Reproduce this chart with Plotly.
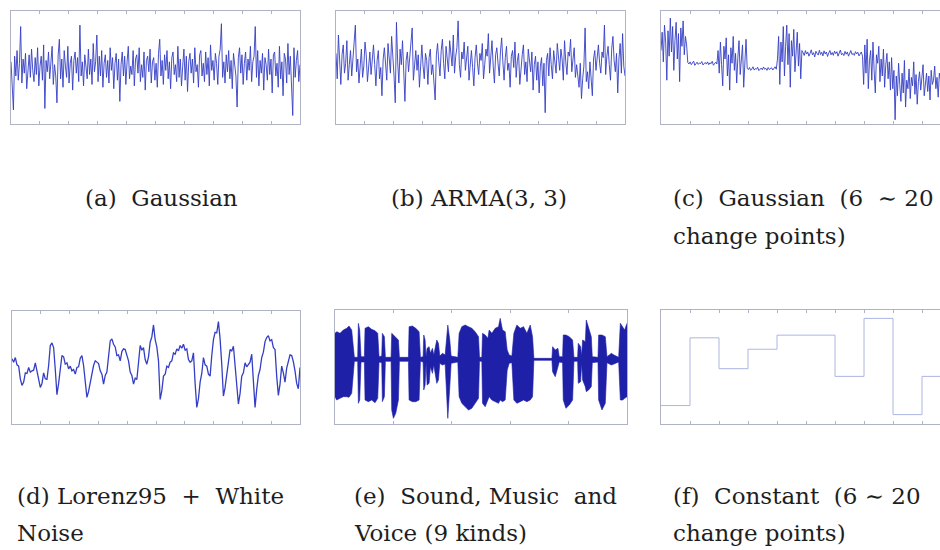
import plotly.graph_objects as go

# ---------------- data ----------------
# (a) Gaussian white noise
gaussian = [
    0.4, -1.2, -3.0, 0.8, -0.6, 1.2, -0.9, 0.3, 2.9, -1.1, 0.6, -0.4, 1.0, -1.5, 0.2, 0.9, -0.7, 1.3, -0.2, -1.0,
    0.7, -0.5, 1.4, -1.3, 0.1, 0.8, -0.9, 1.6, -2.9, 0.5, -0.3, 1.1, -0.8, 0.4, 1.5, -1.2, 0.2, -0.6, -2.5, 0.9,
    2.0, -0.8, 0.6, -1.4, 1.2, 0.1, -0.7, 1.5, -1.1, 0.3, 0.8, -1.6, 0.5, 1.1, -0.4, 0.7, -1.0, 3.0, -0.6, 0.4,
    -1.3, 0.9, 0.2, -0.8, 1.3, -0.5, 0.6, -1.2, 1.7, -0.3, 0.4, 2.3, -1.0, 0.8, -0.6, 1.2, -1.4, 0.3, 0.9, -0.7,
    0.5, -1.1, 1.4, -0.2, 0.7, -1.5, 0.3, 1.0, -0.9, 0.6, -2.4, 0.2, 1.1, -0.6, 0.8, -1.2, 0.4, 1.5, -0.8, 0.1,
    -0.5, 1.2, -1.3, 0.6, 0.9, -0.4, 1.4, -1.0, 0.2, -0.7, 1.1, -1.6, 0.5, 0.8, -0.3, 1.3, -1.1, 0.4, 0.7, -0.9,
    0.3, -1.4, 1.0, 2.0, -0.6, 0.5, -1.2, 0.9, -0.2, 1.2, -0.8, 0.4, -1.5, 0.7, 1.1, -0.5, 0.2, -1.0, 1.5, -0.7,
    0.6, -1.3, 0.1, 1.3, -0.9, 0.8, -1.7, 0.4, 1.0, -0.4, 0.6, -1.1, 1.4, -0.3, 0.2, -1.4, 0.9, 1.2, -0.6, 0.3,
    -1.0, 1.1, -0.5, 0.7, -1.3, 1.6, -0.2, 0.5, -0.9, 1.0, 0.3, -1.2, 0.8, 1.3, 3.1, -0.7, 0.4, -1.1, 0.9, -0.3,
    1.2, -0.8, 0.5, -1.5, 1.0, 0.2, -0.6, -2.8, 0.7, 1.4, -0.4, 0.9, -1.2, 0.3, 1.1, -0.9, 0.6, -0.2, 1.5, -1.0,
    0.4, 0.8, 2.9, -0.7, 1.2, -1.3, 0.5, -0.4, 1.0, -1.6, 0.7, 0.2, -0.9, 1.3, -0.5, 0.6, -1.8, 0.9, 1.1, -0.6,
    0.3, -1.4, 1.5, -0.8, 0.4, -2.0, 1.0, 0.6, -1.1, 1.7, -0.5, 0.8, -1.3, -3.4, 1.4, -0.7, 0.5, 1.2, -1.0, 0.2,
]

# (b) ARMA(3, 3)
arma = [
    1.0, -0.8, 2.3, 0.5, -1.2, 0.9, 1.6, -0.4, 0.3, 1.9, -0.9, 0.2, 1.2, -0.6, 0.8, 1.5, 3.0, -0.3, 0.6, -1.1,
    0.4, 1.3, -0.7, 0.1, 1.8, 0.9, -1.0, 0.3, 1.1, -0.5, 0.7, 1.6, 0.2, -1.3, 0.5, 1.2, -0.8, 0.0, -2.0, 0.6,
    1.4, 0.3, -0.9, 1.7, 0.8, -0.4, 2.2, 1.0, -0.6, -2.5, 3.2, 0.4, -1.1, 1.3, 0.2, 1.9, -0.7, -2.4, 0.5, 1.1,
    -0.3, 0.8, 1.5, 2.8, -0.9, 0.6, 1.2, -0.2, 0.9, -1.4, 0.4, 1.6, 0.1, -0.8, 1.0, 0.5, -1.2, 0.7, 1.3, -0.5,
    0.2, -1.0, -2.3, 0.9, 1.7, 0.4, -0.6, 1.2, 2.0, 0.3, -0.8, 1.5, 0.7, -0.3, 1.9, 1.0, 0.1, 2.3, -0.4, 0.8,
    1.4, 3.3, 0.2, -0.7, 1.1, 0.6, 1.8, -0.2, 0.9, 1.5, -0.9, 0.4, 1.2, 0.0, -1.3, 0.7, 1.6, 0.3, -0.5, 1.0,
    0.5, 1.7, -0.8, 0.2, 1.3, 0.8, 2.4, -0.4, 0.6, 1.9, 0.1, -1.1, 0.9, 1.4, 0.3, -0.6, 1.1, 2.1, 0.4, -0.9,
    0.7, 1.5, -0.2, 0.3, -1.4, 0.8, 1.2, 0.0, 1.8, -0.7, 0.5, 1.0, -1.2, 0.2, 0.9, 1.6, -0.5, 0.4, -1.0, 1.3,
    0.6, -0.3, 1.1, -1.6, 0.2, 0.8, -0.9, 0.4, -1.8, 0.1, 0.7, -1.3, 0.3, -3.2, 0.5, 1.0, -0.6, 1.4, 0.2, -0.8,
    1.2, 0.5, -0.4, 1.7, 0.9, -0.2, 1.3, 0.6, -0.9, 1.9, 0.4, -0.5, 1.1, 0.8, 2.0, -0.3, 0.6, 1.4, -0.7, 0.2,
    -0.6, -1.4, 0.3, -2.2, -0.8, 0.1, 2.8, -1.0, -0.3, -1.5, 0.4, -0.7, -2.0, 0.6, 1.2, -0.2, 0.9, 1.6, 0.3, -0.4,
    1.1, 0.7, 3.0, -0.5, 0.8, 1.5, 0.2, -0.9, 1.3, 2.2, 0.5, -0.3, 1.0, -1.8, 0.6, 1.7, -0.4, 2.4, 0.1, -0.6,
]

# (c) Gaussian with change points (segments of alternating high / low variance)
gauss_cp = [
    # high variance, mean ~1.45
    1.2, 2.5, 0.4, 3.0, 1.8, -0.9, 2.6, 0.8, 3.5, 1.1, 2.9, -0.2, 1.9, 3.2, 0.6, 2.4, -1.0, 2.8, 1.5, 3.3, 0.9, 2.2, 1.6,
    # low variance, mean ~0.3
    0.35, 0.25, 0.4, 0.2, 0.3, 0.45, 0.15, 0.3, 0.38, 0.22, 0.32, 0.28, 0.42, 0.18, 0.3, 0.36, 0.24, 0.4, 0.2, 0.33,
    0.27, 0.44, 0.16, 0.3, 0.38, 0.25,
    # high variance, mean ~0.5
    1.2, -0.4, 1.8, 0.2, -1.3, 1.5, 0.6, 2.1, -0.6, 0.9, -1.6, 1.4, 0.3, 2.2, -0.2, 1.0, -1.1, 0.7, 1.9, -0.5, 0.4,
    1.6, -1.4, 0.8, 2.0,
    # low variance, mean ~-0.1
    -0.05, -0.15, 0.0, -0.2, -0.1, 0.05, -0.18, -0.08, -0.12, 0.02, -0.22, -0.1, -0.04, -0.16, 0.04, -0.12, -0.06,
    -0.2, 0.0, -0.14, -0.08, -0.02, -0.18, -0.1, 0.05, -0.12,
    # high variance, mean ~1.25
    0.6, 2.2, -1.2, 1.8, 0.4, 2.9, -0.6, 1.5, 3.0, 0.2, 2.4, -1.4, 1.9, 0.8, 2.7, -0.3, 1.3, 2.5, 0.1, 1.7, -0.8, 1.2,
    # low variance, mean ~1.0
    1.05, 0.85, 1.2, 0.95, 1.1, 0.8, 1.0, 1.25, 0.9, 1.05, 0.75, 1.15, 1.0, 0.88, 1.22, 0.92, 1.08, 0.82, 1.18, 0.96,
    1.1, 0.78, 1.02, 1.2, 0.9, 1.06, 0.86, 1.16, 0.98, 1.12, 0.8, 1.04, 1.24, 0.9, 1.0, 0.84, 1.14, 0.94, 1.1, 0.8,
    1.06, 1.2, 0.92, 1.0, 0.86, 1.12, 0.96, 1.08, 0.82, 1.0, 1.1,
    # high variance, mean ~0.05
    0.8, -1.2, 1.6, -0.4, 2.0, -1.5, 0.5, 1.2, -0.9, 1.8, -0.2, -1.8, 0.9, 0.3, 1.5, -1.0, 0.6, -0.6, 1.3, -1.4, 0.2,
    1.0, -0.8, 0.4, -1.6, 0.7,
    # high variance, mean ~-0.9
    -1.5, -0.2, -3.7, -0.6, -2.0, 0.3, -1.2, -2.4, -0.4, -1.8, 0.5, -2.8, -0.9, -1.5, -0.1, -2.2, -0.7, -1.3, 0.4,
    -1.9, -0.5, -2.6, -1.0, -0.3, -1.6, -0.8, 0.2, -2.0, -1.1, -0.4, -1.7, -0.6, -2.3, -0.2, -1.2, -0.9, 0.1, -1.5,
    -0.7, -2.1, -0.4, -1.0, -1.4, 0.0, -1.8, -0.6, -1.1, -0.3, -1.6, -0.8, -1.2,
]

# (d) Lorenz95 + white noise
lorenz = [
    1.3, 0.8, 1.5, 0.4, 0.2, -1.7, -2.7, -2.2, -0.8, -0.9, 0.0, -0.7, -0.5, -0.4, 0.7, -0.5, -2.2, -3.0, -2.4, -0.8,
    -1.7, -1.8, 0.3, 3.3, 3.7, 3.0, -0.3, -4.1, -2.4, 0.3, 1.8, 1.6, 0.5, 0.7, -0.2, 0.2, -0.5, -0.3, -1.0, 0.0,
    0.1, 1.4, 1.8, 0.3, -2.3, -4.5, -3.6, -2.2, -0.5, 0.3, 1.0, 0.8, 0.6, -0.5, -1.0, -2.5, -1.2, -0.7, 2.2, 4.0,
    4.3, 3.5, 3.1, 1.8, 1.9, 1.0, 2.4, 2.8, 2.7, 1.7, 1.0, -0.7, -1.2, -2.5, -1.6, -1.8, 0.5, 3.3, 2.6, 3.0,
    1.2, 0.5, 1.6, 3.8, 4.6, 6.4, 4.2, 3.1, 1.0, -4.8, -3.5, -1.3, -1.0, 0.2, 0.0, 0.8, 1.0, 2.2, 2.0, 2.8,
    2.5, 3.3, 2.9, 3.5, 2.6, 2.8, 1.2, 0.8, 1.0, 2.2, -2.4, -6.0, -4.7, -2.2, -0.9, 1.5, 0.4, 0.2, -1.0, -1.3,
    1.8, 4.2, 5.3, 5.2, 6.9, 4.3, 0.5, -4.3, -3.0, -0.8, 0.5, 2.7, 2.5, 3.2, 0.3, -2.3, -5.5, -3.9, -1.3, -0.8,
    0.7, 0.1, 0.5, 0.8, 2.0, -2.0, -6.0, -3.3, -1.2, -0.3, 1.5, 2.3, 3.9, 4.5, 4.8, 4.0, 4.2, 3.0, 2.7, -1.3,
    -4.2, -2.5, 0.2, -0.8, -2.2, -0.1, 1.0, 1.9, 1.8, 0.9, -0.5, -2.4, -3.2, 0.0,
]

# (e) sound / music / voice: amplitude envelope (sample index, upper, lower)
sound_t = [0, 500, 1500, 2500, 3500, 4200, 5000, 5500, 5800, 6800, 7000, 7400, 7800, 8800, 9000, 10000, 11000,
           12000, 12800, 13200, 14000, 14200, 14800, 15100, 16800, 17000, 17500, 18200, 19000, 19300, 22000, 22200,
           23200, 24200, 25200, 25600, 26400, 26600, 27000, 27300, 27600, 28200, 28600, 29200, 29600, 30500, 31000,
           31400, 32200, 33000, 33800, 34400, 34800, 36800, 37200, 38000, 39000, 40000, 41000, 42000, 43000, 43300,
           44000, 44200, 45000, 45800, 46200, 47000, 48000, 49000, 49500, 50200, 51000, 51600, 52200, 53000, 53600,
           54500, 55500, 56500, 57500, 58500, 59200, 59600, 65000, 65200, 66000, 66800, 67200, 68200, 68400, 69200,
           70200, 71200, 71600, 72700, 72900, 73600, 73900, 74200, 75000, 75300, 76000, 76800, 77100, 78800, 79000,
           80000, 81000, 81500, 82200, 82800, 83600, 85000, 85500, 86200, 86800, 87500]
sound_hi = [7800, 8300, 7800, 8800, 9300, 10000, 8800, 2800, 600, 600, 10800, 8800, 800, 800, 9300, 9800, 9000,
            8600, 7800, 800, 1000, 7800, 6800, 600, 600, 7800, 7300, 6800, 5800, 600, 600, 9800,
            10000, 9300, 8300, 600, 800, 7300, 5800, 800, 3300, 3800, 1800, 3300, 1300, 5800, 4800,
            1000, 1800, 1300, 10300, 5800, 1000, 600, 7800, 9800, 10300, 9800, 9300, 8300, 6800, 600,
            600, 7800, 7300, 6300, 8800, 7800, 9300, 9800, 12300, 8800, 8300, 2800, 1300, 1000, 7800,
            10300, 9300, 9800, 7800, 10300, 6800, 300, 300, 3800, 2800, 3300, 800, 800, 7300, 7300,
            6800, 5800, 600, 600, 4800, 3800, 1000, 5800, 5300, 11800, 9300, 6800, 800, 600, 7300,
            7300, 6800, 800, 1300, 1800, 1300, 600, 10800, 9800, 8800, 10800]
sound_lo = [-11200, -12200, -11700, -11200, -11200, -11400, -10200, -3200, -600, -600, -13200, -12200, -800, -800,
            -12200, -12700, -12200, -13000, -11700, -800, -1000, -12700, -11200, -600, -600, -15200, -17700, -16200,
            -12200, -600, -600, -12200, -12700, -12700, -12200, -600, -800, -9200, -7700, -1000, -7700, -7200,
            -2200, -4200, -1700, -7200, -6200, -1200, -1700, -1400, -17700, -8200, -1200, -800, -11200, -13200,
            -14200, -15200, -14700, -13200, -11700, -600, -600, -13200, -14200, -12200, -11200, -12200, -12700,
            -13200, -12200, -12700, -12200, -3200, -1200, -1000, -12200, -13200, -12700, -12200, -12700, -12200,
            -11200, -300, -300, -3700, -5200, -2200, -800, -1000, -12200, -14700, -13700, -12200, -600, -600,
            -7200, -6700, -1200, -6200, -8200, -9700, -9200, -8200, -1000, -800, -12200, -15200, -13200, -1000,
            -1400, -1700, -1400, -800, -12200, -12200, -11700, -11200]

# (f) piecewise constant signal with change points
const_cp = [0, 100, 200, 300, 400, 600, 700, 800, 900]
const_levels = [-5.75, 4.35, -0.25, 2.65, 4.75, -1.4, 7.25, -7.1, -1.4]
const_len = 1000

captions = [
    ("(a)\u00a0\u00a0Gaussian", 83, 198),
    ("(b) ARMA(3, 3)", 389, 198),
    ("(c)\u00a0\u00a0Gaussian\u00a0\u00a0(6\u00a0\u00a0\u223c 20", 671, 198),
    ("change points)", 671, 236),
    ("(d) Lorenz95\u00a0\u00a0+\u00a0\u00a0White", 15, 496),
    ("Noise", 15, 533),
    ("(e)\u00a0\u00a0Sound, Music\u00a0\u00a0and", 352, 496),
    ("Voice (9 kinds)", 352, 533),
    ("(f)\u00a0\u00a0Constant\u00a0\u00a0(6 \u223c 20", 671, 496),
    ("change points)", 671, 533),
]

# ---------------- figure ----------------
W, H = 940, 550
NOISE = "rgb(52,62,196)"
FRAME = "rgb(176,179,198)"
SOUND = "rgb(30,32,168)"

fig = go.Figure()

# panel boxes in pixels: (left, right, top, bottom)
boxes = {
    1: (11, 300, 11, 124),
    2: (336, 625, 11, 124),
    3: (661, 940, 11, 124),
    4: (12, 300, 311, 424),
    5: (335, 627, 310, 424),
    6: (661, 940, 310, 424),
}

def xs(vals):
    return list(range(len(vals)))

n_c = len(gauss_cp)
vis = 279.0 / 290.0  # panels c and f are cut by the page edge

fig.add_trace(go.Scatter(x=xs(gaussian), y=gaussian, mode="lines",
                         line=dict(color=NOISE, width=0.9), xaxis="x", yaxis="y"))
fig.add_trace(go.Scatter(x=xs(arma), y=arma, mode="lines",
                         line=dict(color=NOISE, width=0.9), xaxis="x2", yaxis="y2"))
fig.add_trace(go.Scatter(x=xs(gauss_cp), y=gauss_cp, mode="lines",
                         line=dict(color=NOISE, width=0.9), xaxis="x3", yaxis="y3"))
fig.add_trace(go.Scatter(x=xs(lorenz), y=lorenz, mode="lines",
                         line=dict(color=NOISE, width=1.3), xaxis="x4", yaxis="y4"))
fig.add_trace(go.Scatter(x=sound_t, y=sound_hi, mode="lines",
                         line=dict(color=SOUND, width=0.6), xaxis="x5", yaxis="y5"))
fig.add_trace(go.Scatter(x=sound_t, y=sound_lo, mode="lines", fill="tonexty",
                         fillcolor=SOUND,
                         line=dict(color=SOUND, width=0.6), xaxis="x5", yaxis="y5"))
fig.add_trace(go.Scatter(x=const_cp + [const_len], y=const_levels + [const_levels[-1]], mode="lines",
                         line=dict(color="rgb(172,182,228)", width=1, shape="hv"), xaxis="x6", yaxis="y6"))

xranges = {
    1: [0, len(gaussian) - 1],
    2: [0, len(arma) - 1],
    3: [0, (n_c - 1) * vis],
    4: [0, len(lorenz) - 1],
    5: [0, sound_t[-1]],
    6: [0, const_len * vis],
}
yranges = {
    1: [-4, 4], 2: [-4, 4], 3: [-4, 4],
    4: [-8.5, 8.5], 5: [-19400, 14800], 6: [-8.5, 8.5],
}
full_len = {1: len(gaussian) - 1, 2: len(arma) - 1, 3: n_c - 1, 4: len(lorenz) - 1,
            5: sound_t[-1], 6: const_len}
ndiv = {1: 10, 2: 10, 3: 10, 4: 10, 5: 5, 6: 10}

layout = dict(width=W, height=H, margin=dict(l=0, r=0, t=0, b=0),
              paper_bgcolor="white", plot_bgcolor="white", showlegend=False)

for k, (l, r, t, b) in boxes.items():
    sfx = "" if k == 1 else str(k)
    L = full_len[k]
    tv = [L * j / ndiv[k] for j in range(1, ndiv[k])]
    layout["xaxis" + sfx] = dict(
        domain=[l / W, r / W], range=xranges[k], anchor="y" + sfx,
        showgrid=False, zeroline=False, showticklabels=False,
        showline=True, linecolor=FRAME, linewidth=1, mirror="ticks",
        ticks="inside", ticklen=3, tickwidth=1, tickcolor=FRAME, tickvals=tv,
    )
    layout["yaxis" + sfx] = dict(
        domain=[1 - b / H, 1 - t / H], range=yranges[k], anchor="x" + sfx,
        showgrid=False, zeroline=False, showticklabels=False, ticks="",
        showline=True, linecolor=FRAME, linewidth=1,
        mirror=(k not in (3, 6)),
    )

fig.update_layout(**layout)

for text, x, y in captions:
    fig.add_annotation(text=text, x=x / W, y=1 - y / H, xref="paper", yref="paper",
                       xanchor="left", yanchor="middle", showarrow=False,
                       font=dict(family="DejaVu Serif", size=23, color="rgb(30,30,30)"))

fig.write_html("out.html")
